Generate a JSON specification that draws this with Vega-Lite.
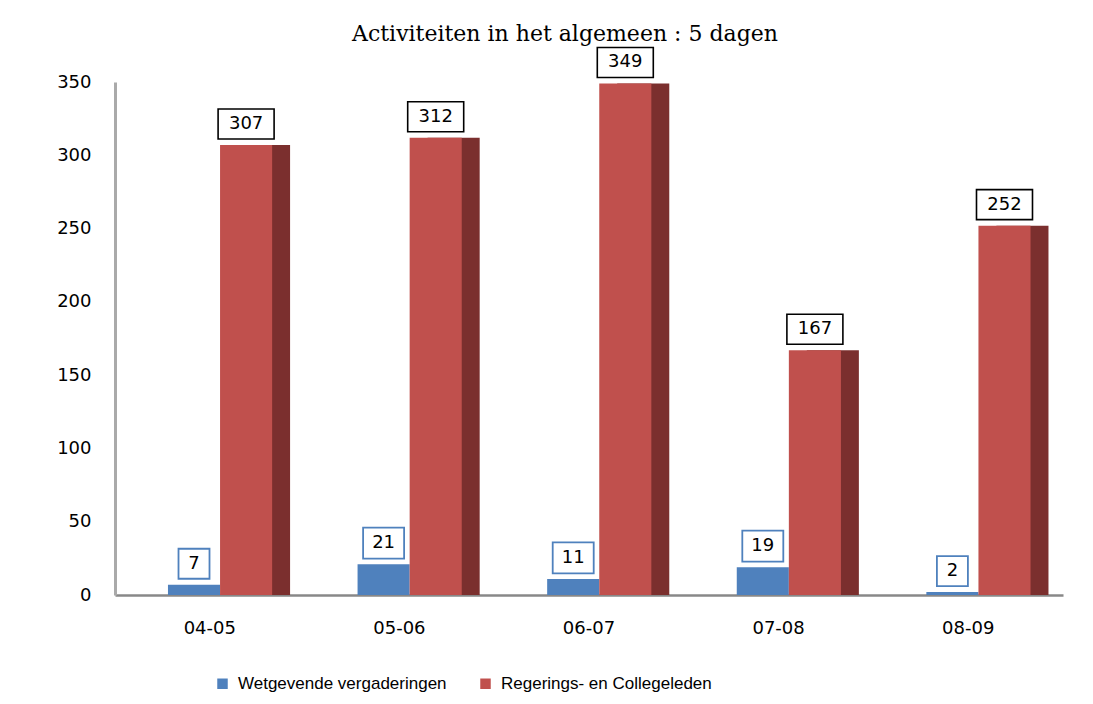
{
  "$schema": "https://vega.github.io/schema/vega-lite/v6.json",
  "width": 948,
  "height": 513,
  "autosize": {"type": "none"},
  "padding": {"left": 115, "top": 82, "right": 30, "bottom": 109},
  "background": "white",
  "config": {"view": {"stroke": null}},
  "title": {
    "text": "Activiteiten in het algemeen : 5 dagen",
    "font": "DejaVu Serif",
    "fontSize": 22,
    "fontWeight": "normal",
    "color": "black",
    "anchor": "middle",
    "dx": -24,
    "offset": -2
  },
  "data": {
    "values": [
      {"periode": "04-05", "reeks": "Wetgevende vergaderingen", "aantal": 7},
      {"periode": "05-06", "reeks": "Wetgevende vergaderingen", "aantal": 21},
      {"periode": "06-07", "reeks": "Wetgevende vergaderingen", "aantal": 11},
      {"periode": "07-08", "reeks": "Wetgevende vergaderingen", "aantal": 19},
      {"periode": "08-09", "reeks": "Wetgevende vergaderingen", "aantal": 2},
      {"periode": "04-05", "reeks": "Regerings- en Collegeleden", "aantal": 307},
      {"periode": "05-06", "reeks": "Regerings- en Collegeleden", "aantal": 312},
      {"periode": "06-07", "reeks": "Regerings- en Collegeleden", "aantal": 349},
      {"periode": "07-08", "reeks": "Regerings- en Collegeleden", "aantal": 167},
      {"periode": "08-09", "reeks": "Regerings- en Collegeleden", "aantal": 252}
    ]
  },
  "encoding": {
    "x": {
      "field": "periode",
      "type": "nominal",
      "sort": null,
      "scale": {"paddingInner": 0, "paddingOuter": 0},
      "axis": {
        "title": null,
        "labelAngle": 0,
        "labelFont": "DejaVu Sans",
        "labelFontSize": 18,
        "labelColor": "black",
        "labelPadding": 24,
        "ticks": false,
        "domainColor": "#888888",
        "domainWidth": 2.5
      }
    },
    "y": {
      "field": "aantal",
      "type": "quantitative",
      "scale": {"domain": [0, 350], "nice": false},
      "axis": {
        "title": null,
        "values": [0, 50, 100, 150, 200, 250, 300, 350],
        "grid": false,
        "ticks": false,
        "labelFont": "DejaVu Sans",
        "labelFontSize": 18,
        "labelColor": "black",
        "labelPadding": 24,
        "domainColor": "#aaaaaa",
        "domainWidth": 3
      }
    }
  },
  "resolve": {"scale": {"xOffset": "independent"}},
  "layer": [
    {
      "transform": [{"filter": "datum.reeks === 'Regerings- en Collegeleden'"}],
      "mark": {"type": "bar", "color": "#7B2F2E"},
      "encoding": {
        "xOffset": {
          "field": "reeks",
          "type": "nominal",
          "scale": {
            "domain": ["Wetgevende vergaderingen", "Regerings- en Collegeleden"],
            "paddingInner": 0, "paddingOuter": 0.82, "align": 0.83
          }
        }
      }
    },
    {
      "encoding": {
        "xOffset": {
          "field": "reeks",
          "type": "nominal",
          "scale": {
            "domain": ["Wetgevende vergaderingen", "Regerings- en Collegeleden"],
            "paddingInner": 0, "paddingOuter": 0.82, "align": 0.62
          }
        }
      },
      "layer": [
        {
          "mark": {"type": "bar"},
          "encoding": {
            "color": {
              "field": "reeks",
              "type": "nominal",
              "scale": {
                "domain": ["Wetgevende vergaderingen", "Regerings- en Collegeleden"],
                "range": ["#4F81BD", "#C0504D"]
              },
              "legend": {
                "title": null,
                "orient": "none",
                "direction": "horizontal",
                "legendX": 99,
                "legendY": 593,
                "symbolType": "square",
                "symbolSize": 110,
                "symbolStrokeWidth": 0,
                "symbolOpacity": 1,
                "labelFont": "Liberation Sans",
                "labelFontSize": 17,
                "labelColor": "black",
                "labelOffset": 7,
                "labelLimit": 400,
                "columnPadding": 30
              }
            }
          }
        },
        {
          "transform": [{"filter": "datum.reeks === 'Regerings- en Collegeleden'"}],
          "mark": {
            "type": "point",
            "shape": "M-5.6,-3H5.6V3H-5.6Z",
            "size": 100,
            "filled": true,
            "fill": "white",
            "stroke": "black",
            "strokeWidth": 1.6,
            "opacity": 1,
            "yOffset": -21
          },
          "encoding": {}
        },
        {
          "transform": [{"filter": "datum.reeks === 'Wetgevende vergaderingen' && datum.aantal >= 10"}],
          "mark": {
            "type": "point",
            "shape": "M-4.1,-3.1H4.1V3.1H-4.1Z",
            "size": 100,
            "filled": true,
            "fill": "white",
            "stroke": "#4F81BD",
            "strokeWidth": 1.8,
            "opacity": 1,
            "yOffset": -21
          },
          "encoding": {}
        },
        {
          "transform": [{"filter": "datum.reeks === 'Wetgevende vergaderingen' && datum.aantal < 10"}],
          "mark": {
            "type": "point",
            "shape": "M-3.1,-3H3.1V3H-3.1Z",
            "size": 100,
            "filled": true,
            "fill": "white",
            "stroke": "#4F81BD",
            "strokeWidth": 1.8,
            "opacity": 1,
            "yOffset": -21
          },
          "encoding": {}
        },
        {
          "mark": {
            "type": "text",
            "font": "DejaVu Sans",
            "fontSize": 18,
            "color": "black",
            "baseline": "middle",
            "align": "center",
            "yOffset": -21
          },
          "encoding": {"text": {"field": "aantal", "type": "quantitative"}}
        }
      ]
    }
  ]
}
